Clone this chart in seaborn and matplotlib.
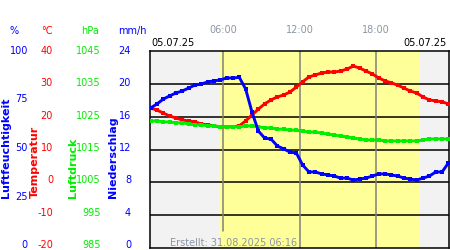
import matplotlib
matplotlib.use('Agg')
import matplotlib.pyplot as plt
import seaborn as sns
import pandas as pd

# ---------------- data ----------------
hours = [0.25, 0.75, 1.25, 1.75, 2.25, 2.75, 3.25, 3.75, 4.25, 4.75, 5.25, 5.75,
         6.25, 6.75, 7.25, 7.75, 8.25, 8.75, 9.25, 9.75, 10.25, 10.75, 11.25, 11.75,
         12.25, 12.75, 13.25, 13.75, 14.25, 14.75, 15.25, 15.75, 16.25, 16.75, 17.25, 17.75,
         18.25, 18.75, 19.25, 19.75, 20.25, 20.75, 21.25, 21.75, 22.25, 22.75, 23.25, 23.75]

humidity = [71.1, 73.1, 75.6, 77.2, 78.7, 79.7, 81.2, 82.7, 83.2, 84.3, 84.8, 85.3,
            86.3, 86.3, 86.6, 80.7, 69.0, 59.4, 55.8, 55.3, 51.8, 50.3, 48.7, 48.2,
            42.1, 38.6, 38.6, 37.6, 37.1, 36.5, 35.5, 35.5, 34.5, 35.0, 35.5, 36.5,
            37.6, 37.6, 37.1, 36.5, 35.5, 35.0, 34.5, 35.5, 36.5, 38.6, 38.6, 43.1]

temperature = [22.6, 22.0, 21.1, 20.2, 19.6, 19.0, 18.7, 18.4, 17.8, 17.5, 17.2, 16.9,
               16.9, 16.9, 17.2, 18.7, 20.5, 22.3, 23.9, 25.1, 26.0, 26.6, 27.5, 29.0,
               30.6, 32.1, 32.7, 33.3, 33.6, 33.6, 33.9, 34.5, 35.4, 34.8, 33.9, 33.0,
               31.8, 30.9, 30.3, 29.6, 28.7, 27.8, 27.2, 26.0, 25.1, 24.8, 24.5, 23.9]

pressure = [1023.7, 1023.7, 1023.4, 1023.4, 1023.1, 1023.1, 1022.8, 1022.5, 1022.5, 1022.2, 1022.2, 1021.9,
            1021.9, 1021.9, 1021.9, 1022.2, 1022.2, 1021.9, 1021.6, 1021.6, 1021.2, 1021.2, 1020.9, 1020.9,
            1020.6, 1020.3, 1020.3, 1020.0, 1019.7, 1019.4, 1019.1, 1018.8, 1018.5, 1018.2, 1017.9, 1017.9,
            1017.9, 1017.6, 1017.6, 1017.6, 1017.6, 1017.6, 1017.6, 1017.9, 1018.2, 1018.2, 1018.2, 1018.2]

hum_ticks = [0, 25, 50, 75, 100]
temp_ticks = [-20, -10, 0, 10, 20, 30, 40]
pres_ticks = [985, 995, 1005, 1015, 1025, 1035, 1045]
rain_ticks = [0, 4, 8, 12, 16, 20, 24]
time_ticks = [6, 12, 18]
time_labels = ["06:00", "12:00", "18:00"]
day_start, day_end = 5.68, 21.4
x_min, x_max = 0.2, 23.8
date_label = "05.07.25"
created = "Erstellt: 31.08.2025 06:16"

df = pd.DataFrame({"h": hours, "hum": humidity, "temp": temperature, "pres": pressure})

# ---------------- style ----------------
sns.set_style("white")
plt.rcParams['font.family'] = ['DejaVu Sans']

BLUE = '#0000ff'
RED = '#ff0000'
GREEN = '#00ee00'
GRAY_TXT = '#8a96a3'

W, H = 450, 250
fig = plt.figure(figsize=(4.5, 2.5), dpi=100)
fig.patch.set_facecolor('white')

def fx(px):
    return px / W

def fy(py):
    return 1 - py / H

# plot area: x 150..449, y 51..248
left, right, top, bottom = 150, 449, 51, 248
rect = [fx(left), fy(bottom), (right - left) / W, (bottom - top) / H]

ax = fig.add_axes(rect)          # temperature axis (with background)
ax_p = ax.twinx()                # pressure
ax_h = ax.twinx()                # humidity
for a in (ax_p, ax_h):
    a.patch.set_visible(False)
    a.set_yticks([])
    for s in a.spines.values():
        s.set_visible(False)

ax.set_xlim(x_min, x_max)
ax.set_ylim(-20, 40)
ax_p.set_ylim(985, 1045)
ax_h.set_ylim(0, 100)

ax.axvspan(x_min, day_start, color='#f2f2f2', lw=0, zorder=0)
ax.axvspan(day_start, day_end, color='#ffff99', lw=0, zorder=0)
ax.axvspan(day_end, x_max, color='#f2f2f2', lw=0, zorder=0)

for t in temp_ticks[1:-1]:
    ax.axhline(t, color='black', lw=1.1, zorder=1)
for i, t in enumerate(time_ticks):
    ymin = 17 / 197 if i == 0 else 0
    ax.axvline(t, ymin=ymin, color='#808080', lw=1.1, zorder=1)

LW = 2.1
MS = 2.4
sns.lineplot(data=df, x="h", y="pres", ax=ax_p, color=GREEN, lw=LW,
             marker='s', markersize=MS, markeredgewidth=0, legend=False)
sns.lineplot(data=df, x="h", y="temp", ax=ax, color=RED, lw=LW,
             marker='s', markersize=MS, markeredgewidth=0, legend=False, zorder=3)
sns.lineplot(data=df, x="h", y="hum", ax=ax_h, color=BLUE, lw=LW,
             marker='s', markersize=MS, markeredgewidth=0, legend=False)

for a in (ax, ax_p, ax_h):
    a.set_xlabel("")
    a.set_ylabel("")
    a.set_xlim(x_min, x_max)
ax.set_xticks([])
ax.set_yticks([])
for s in ax.spines.values():
    s.set_visible(True)
    s.set_color('black')
    s.set_linewidth(1.1)

# time labels on top
for t, lab in zip(time_ticks, time_labels):
    ax.text(t, 1.0 + 21 / 197, lab, transform=ax.get_xaxis_transform(),
            ha='center', va='center', fontsize=7, color=GRAY_TXT)

fig.text(fx(151), fy(43), date_label, ha='left', va='center', fontsize=7, color='black')
fig.text(fx(447), fy(43), date_label, ha='right', va='center', fontsize=7, color='black')
fig.text(fx(297), fy(243), created, ha='right', va='center', fontsize=7, color=GRAY_TXT)

# tick label columns (scale spans y 50..244 px)
def label_column(x_right, lo, hi, ticks, color):
    a = fig.add_axes([fx(x_right), fy(244), 0.0001, 194 / H])
    a.set_ylim(lo, hi)
    a.set_yticks(ticks)
    a.set_yticklabels([str(t) for t in ticks])
    a.tick_params(axis='y', length=0, pad=0, labelsize=7, labelcolor=color)
    a.set_xticks([])
    a.patch.set_visible(False)
    for s in a.spines.values():
        s.set_visible(False)
    return a

label_column(28, 0, 100, hum_ticks, BLUE)
label_column(53, -20, 40, temp_ticks, RED)
label_column(101, 985, 1045, pres_ticks, GREEN)
label_column(131, 0, 24, rain_ticks, BLUE)

# unit headers
fig.text(fx(14), fy(31), "%", ha='center', va='center', fontsize=7, color=BLUE)
fig.text(fx(47), fy(31), "°C", ha='center', va='center', fontsize=7, color=RED)
fig.text(fx(90), fy(31), "hPa", ha='center', va='center', fontsize=7, color=GREEN)
fig.text(fx(132), fy(31), "mm/h", ha='center', va='center', fontsize=7, color=BLUE)

# rotated axis titles
for xpx, txt, col in [(6, "Luftfeuchtigkeit", BLUE), (35, "Temperatur", RED),
                      (73, "Luftdruck", GREEN), (113, "Niederschlag", BLUE)]:
    fig.text(fx(xpx), fy(198), txt, rotation=90, ha='center', va='bottom',
             fontsize=8, fontweight='bold', color=col)

fig.savefig("out.png", dpi=100, facecolor='white')
